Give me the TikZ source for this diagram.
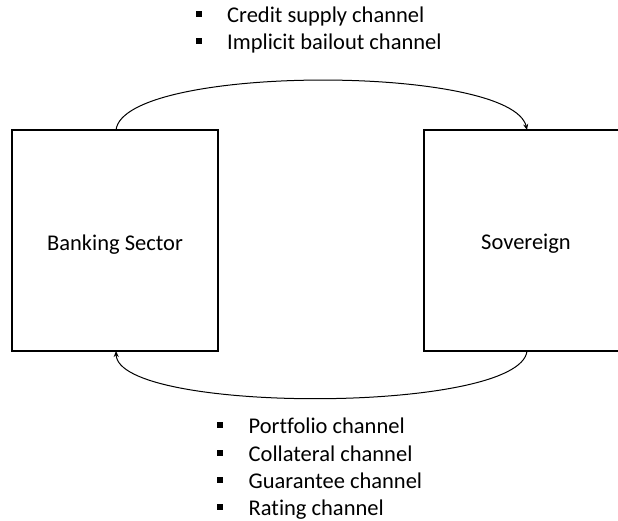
\documentclass[tikz,border=0pt]{standalone}
\usepackage{fontspec}
\setmainfont[Ligatures={NoCommon}]{Carlito}
\usetikzlibrary{arrows.meta}
\begin{document}
\begin{tikzpicture}[x=1pt,y=-1pt,
  txt/.style={font=\fontsize{22.5}{27}\selectfont,inner sep=0pt},
  box/.style={draw,line width=1.6pt,minimum width=206pt,minimum height=221pt,inner sep=0pt},
  link/.style={line width=1pt,-{Stealth[length=6pt,width=5pt]}},
  lst/.style={txt,anchor=base west},
  bul/.style={fill,minimum size=6pt,inner sep=0pt}]
\useasboundingbox (0,0) rectangle (618,520);
\clip (0,0) rectangle (618,520);
\node[box] (bank) at (115,240.5) {};
\node[box] (sov) at (527,240.5) {};
\node[txt,anchor=base] (bankl) at (115,250) {Banking Sector};
\node[txt,anchor=base] (sovl) at (526,249.5) {Sovereign};
\coordinate (bt) at (116,130);
\coordinate (st) at (527,130);
\coordinate (bb) at (116,351);
\coordinate (sb) at (527,351);
\draw[link] (bt) .. controls (124,64) and (512,64) .. (st);
\draw[link] (sb) .. controls (520,414) and (118,414) .. (bb);
\foreach \y/\t [count=\i] in {22.5/Credit supply channel,49.5/Implicit bailout channel}{
  \node[lst] (t\i) at (227,\y) {\t};
  \node[bul] (tb\i) at (198.5,\y-9) {};
}
\foreach \y/\t [count=\i] in {433.5/Portfolio channel,461/Collateral channel,488.5/Guarantee channel,515.5/Rating channel}{
  \node[lst] (b\i) at (248.5,\y) {\t};
  \node[bul] (bb\i) at (219.5,\y-8.5) {};
}
\end{tikzpicture}
\end{document}
